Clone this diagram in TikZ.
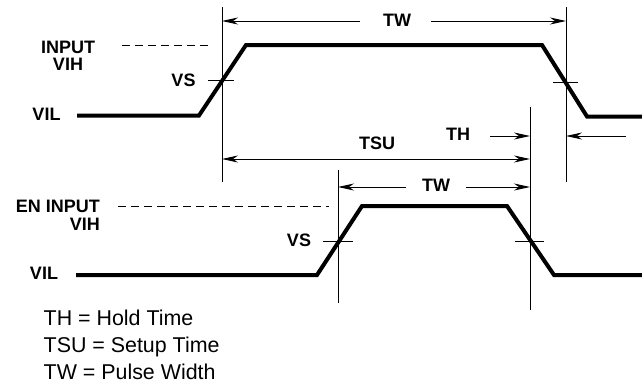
\documentclass[tikz,border=0pt]{standalone}
\usepackage{fontspec}
\setmainfont{Liberation Sans}
\usetikzlibrary{arrows.meta}
\tikzset{
  wave/.style={line width=4pt, line join=miter},
  thin/.style={line width=0.9pt},
  dim/.style={line width=0.9pt, -{Stealth[length=16pt,width=7pt,inset=5pt]}},
  dimboth/.style={line width=0.9pt, {Stealth[length=16pt,width=7pt,inset=5pt]}-{Stealth[length=16pt,width=7pt,inset=5pt]}},
  lvl/.style={dashed, dash pattern=on 8pt off 5pt, line width=0.8pt},
  lbl/.style={font=\fontsize{18}{19}\selectfont\bfseries, inner sep=0pt, anchor=base},
  leg/.style={font=\fontsize{21.4}{24}\selectfont, inner sep=0pt, anchor=base west}
}
\begin{document}
\begin{tikzpicture}[x=1pt,y=-1pt]
\useasboundingbox (0,0) rectangle (642,383);
% top waveform
\draw[wave] (77,115.5) -- (199,115.5) -- (246,45) -- (542,45) -- (587,116.5) -- (642,116.5);
% bottom waveform
\draw[wave] (76,275) -- (317,275) -- (362,206) -- (507,206) -- (554,275) -- (642,275);
% dashed level lines
\draw[lvl] (122,45) -- (212,45);
\draw[lvl] (118,206) -- (329,206);
% vertical reference lines
\coordinate (v1t) at (222,7);   \coordinate (v1b) at (222,182);
\coordinate (v2t) at (566,7);   \coordinate (v2b) at (566,182);
\coordinate (v3t) at (530,107); \coordinate (v3b) at (530,310);
\coordinate (v4t) at (338,170); \coordinate (v4b) at (338,303);
\draw[thin] (v1t) -- (v1b);
\draw[thin] (v2t) -- (v2b);
\draw[thin] (v3t) -- (v3b);
\draw[thin] (v4t) -- (v4b);
% VS ticks
\draw[thin] (208,80) -- (234,80);
\draw[thin] (553,82) -- (578,82);
\draw[thin] (323,241) -- (353,241);
\draw[thin] (515,241) -- (544,241);
% labels
\node[lbl] (input) at (68,53) {INPUT};
\node[lbl] (vih1) at (68,70) {VIH};
\node[lbl] (vs1) at (183.5,86) {VS};
\node[lbl] (vil1) at (46.5,120.7) {VIL};
\node[lbl] (tw1) at (397,26.7) {TW};
\node[lbl] (tsu) at (377,149) {TSU};
\node[lbl] (th) at (458,140) {TH};
\node[lbl, anchor=base east] (eninput) at (100,212.7) {EN INPUT};
\node[lbl, anchor=base east] (vih2) at (100,230.7) {VIH};
\node[lbl] (vs2) at (299,246) {VS};
\node[lbl] (vil2) at (44,279) {VIL};
\node[lbl] (tw2) at (436,191) {TW};
% dimension arrows
\coordinate (tw1l) at (360,21); \coordinate (tw1la) at (222,21);
\coordinate (tw1r) at (431,21); \coordinate (tw1ra) at (566,21);
\draw[dim] (tw1l) -- (tw1la);
\draw[dim] (tw1r) -- (tw1ra);
\coordinate (tsul) at (222,159); \coordinate (tsur) at (530,159);
\draw[dimboth] (tsul) -- (tsur);
\coordinate (thl) at (490,136); \coordinate (thla) at (530,136);
\coordinate (thr) at (626,136); \coordinate (thra) at (566,136);
\draw[dim] (thl) -- (thla);
\draw[dim] (thr) -- (thra);
\coordinate (tw2l) at (406,187); \coordinate (tw2la) at (338,187);
\coordinate (tw2r) at (466,187); \coordinate (tw2ra) at (530,187);
\draw[dim] (tw2l) -- (tw2la);
\draw[dim] (tw2r) -- (tw2ra);
% legend
\node[leg] (l1) at (43.5,325) {TH = Hold Time};
\node[leg] (l2) at (43.5,352) {TSU = Setup Time};
\node[leg] (l3) at (43.5,379) {TW = Pulse Width};
\end{tikzpicture}
\end{document}
